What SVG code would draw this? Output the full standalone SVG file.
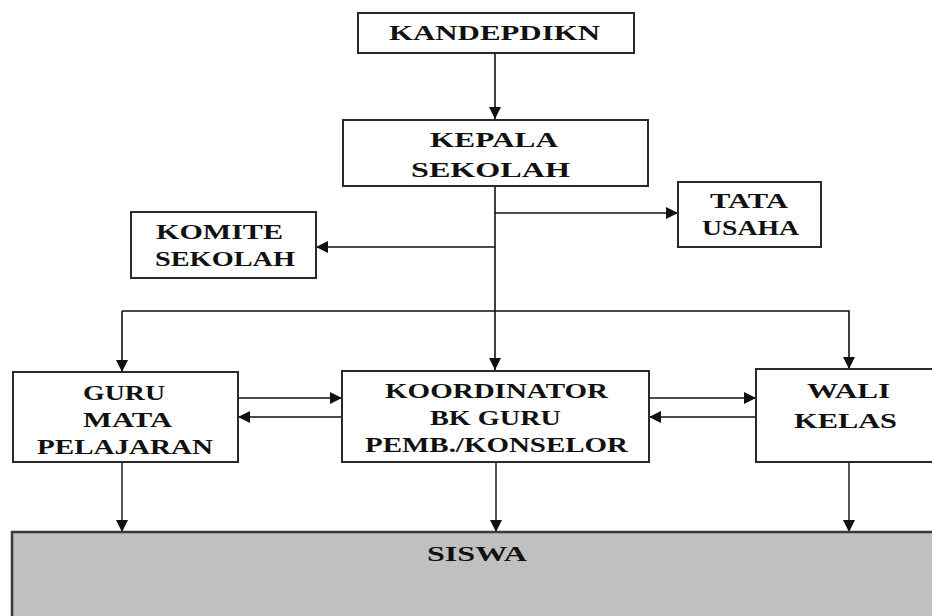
<svg xmlns="http://www.w3.org/2000/svg" width="932" height="616" viewBox="0 0 932 616">
  <style>
    .box { fill: #ffffff; stroke: #2a2a2a; stroke-width: 2; }
    .base { fill: #c0c0c0; stroke: #3a3a3a; stroke-width: 2.5; }
    .lbl { font-family: "Liberation Serif", "Times New Roman", "DejaVu Serif", serif; font-size: 22px; font-weight: bold; fill: #111; }
    .wire { fill: none; stroke: #111; stroke-width: 1.6; }
    .drop { fill: none; stroke: #555; stroke-width: 2; }
  </style>
  <defs>
    <marker id="arrow" viewBox="0 0 10 10" refX="10" refY="5" markerWidth="12" markerHeight="12" markerUnits="userSpaceOnUse" orient="auto">
      <path d="M0,0 L10,5 L0,10 z" fill="#111"/>
    </marker>
  </defs>

  <rect width="932" height="616" fill="#ffffff"/>

  <!-- connectors -->
  <g id="connectors">
    <line class="wire" x1="495" y1="53" x2="495" y2="119" marker-end="url(#arrow)"/>
    <line class="wire" x1="495" y1="186" x2="495" y2="370" marker-end="url(#arrow)"/>
    <line class="wire" x1="495" y1="213" x2="678" y2="213" marker-end="url(#arrow)"/>
    <line class="wire" x1="495" y1="247" x2="316" y2="247" marker-end="url(#arrow)"/>
    <polyline class="wire" points="122,311 849,311 849,369" marker-end="url(#arrow)"/>
    <line class="wire" x1="122" y1="311" x2="122" y2="372" marker-end="url(#arrow)"/>
    <line class="wire" x1="238" y1="398" x2="342" y2="398" marker-end="url(#arrow)"/>
    <line class="wire" x1="342" y1="417" x2="238" y2="417" marker-end="url(#arrow)"/>
    <line class="wire" x1="649" y1="398" x2="756" y2="398" marker-end="url(#arrow)"/>
    <line class="wire" x1="756" y1="417" x2="649" y2="417" marker-end="url(#arrow)"/>
    <line class="drop" x1="122" y1="463" x2="122" y2="532" marker-end="url(#arrow)"/>
    <line class="drop" x1="496" y1="463" x2="496" y2="532" marker-end="url(#arrow)"/>
    <line class="drop" x1="849" y1="463" x2="849" y2="532" marker-end="url(#arrow)"/>
  </g>

  <g id="kandepdikn">
    <rect class="box" x="358" y="13" width="276" height="40"/>
    <text class="lbl" x="389" y="40" textLength="211" lengthAdjust="spacingAndGlyphs">KANDEPDIKN</text>
  </g>

  <g id="kepala-sekolah">
    <rect class="box" x="343" y="120" width="305" height="66"/>
    <text class="lbl" x="430" y="147" textLength="128" lengthAdjust="spacingAndGlyphs">KEPALA</text>
    <text class="lbl" x="411" y="177" textLength="159" lengthAdjust="spacingAndGlyphs">SEKOLAH</text>
  </g>

  <g id="tata-usaha">
    <rect class="box" x="678" y="182" width="143" height="65"/>
    <text class="lbl" x="710" y="208" textLength="78" lengthAdjust="spacingAndGlyphs">TATA</text>
    <text class="lbl" x="702" y="235" textLength="97" lengthAdjust="spacingAndGlyphs">USAHA</text>
  </g>

  <g id="komite-sekolah">
    <rect class="box" x="131" y="212" width="185" height="66"/>
    <text class="lbl" x="156" y="239" textLength="127" lengthAdjust="spacingAndGlyphs">KOMITE</text>
    <text class="lbl" x="155" y="266" textLength="140" lengthAdjust="spacingAndGlyphs">SEKOLAH</text>
  </g>

  <g id="guru-mapel">
    <rect class="box" x="13" y="372" width="225" height="90"/>
    <text class="lbl" x="83" y="400" textLength="82" lengthAdjust="spacingAndGlyphs">GURU</text>
    <text class="lbl" x="83" y="427" textLength="89" lengthAdjust="spacingAndGlyphs">MATA</text>
    <text class="lbl" x="37" y="454" textLength="176" lengthAdjust="spacingAndGlyphs">PELAJARAN</text>
  </g>

  <g id="koordinator-bk">
    <rect class="box" x="342" y="371" width="307" height="91"/>
    <text class="lbl" x="385" y="398" textLength="223" lengthAdjust="spacingAndGlyphs">KOORDINATOR</text>
    <text class="lbl" x="430" y="425" textLength="131" lengthAdjust="spacingAndGlyphs">BK GURU</text>
    <text class="lbl" x="365" y="452" textLength="263" lengthAdjust="spacingAndGlyphs">PEMB./KONSELOR</text>
  </g>

  <g id="wali-kelas">
    <rect class="box" x="756" y="369" width="190" height="93"/>
    <text class="lbl" x="807" y="398" textLength="83" lengthAdjust="spacingAndGlyphs">WALI</text>
    <text class="lbl" x="794" y="428" textLength="103" lengthAdjust="spacingAndGlyphs">KELAS</text>
  </g>

  <g id="siswa">
    <rect class="base" x="12" y="532" width="935" height="100"/>
    <text class="lbl" x="427" y="561" textLength="100" lengthAdjust="spacingAndGlyphs">SISWA</text>
  </g>
</svg>
